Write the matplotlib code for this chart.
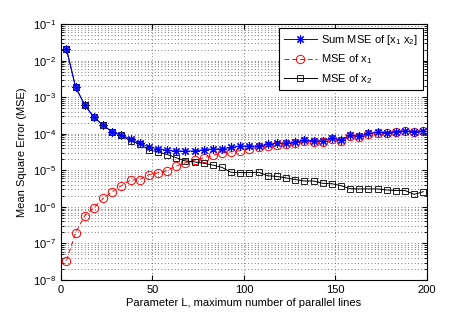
import matplotlib
matplotlib.use("Agg")
import matplotlib.pyplot as plt
import numpy as np
from matplotlib.ticker import LogLocator, NullFormatter

plt.rcParams['font.family'] = ['Liberation Sans', 'DejaVu Sans']
plt.rcParams['mathtext.default'] = 'regular'
plt.rcParams['font.size'] = 8

# parameter L values
L = list(range(3, 199, 5))

mse_sum = [2.07e-2, 1.86e-3, 6.1e-4, 2.8e-4, 1.73e-4, 1.12e-4, 9.2e-5, 7.2e-5,
           5.7e-5, 4.3e-5, 3.9e-5, 3.5e-5, 3.36e-5, 3.36e-5, 3.36e-5, 3.66e-5,
           3.82e-5, 3.82e-5, 4.25e-5, 4.61e-5, 4.61e-5, 4.61e-5, 5.13e-5, 5.47e-5,
           5.47e-5, 5.9e-5, 6.7e-5, 6.45e-5, 6.3e-5, 7.8e-5, 6.7e-5, 9.0e-5,
           8.7e-5, 1.02e-4, 1.09e-4, 1.07e-4, 1.14e-4, 1.21e-4, 1.14e-4, 1.21e-4]

mse_x1 = [3.4e-8, 1.95e-7, 5.8e-7, 9.5e-7, 1.7e-6, 2.6e-6, 3.8e-6, 5.4e-6,
          5.6e-6, 7.6e-6, 8.5e-6, 9.8e-6, 1.3e-5, 1.62e-5, 1.9e-5, 2.2e-5,
          2.56e-5, 3.0e-5, 3.2e-5, 3.45e-5, 3.9e-5, 4.3e-5, 4.6e-5, 4.8e-5,
          5.1e-5, 5.6e-5, 6.2e-5, 5.95e-5, 5.8e-5, 7.4e-5, 6.3e-5, 8.7e-5,
          8.4e-5, 9.9e-5, 1.06e-4, 1.04e-4, 1.11e-4, 1.18e-4, 1.12e-4, 1.18e-4]

mse_x2 = [2.07e-2, 1.86e-3, 6.1e-4, 2.8e-4, 1.73e-4, 1.1e-4, 9.0e-5, 6.4e-5,
          5.3e-5, 3.6e-5, 3.2e-5, 2.7e-5, 2.2e-5, 1.8e-5, 1.7e-5, 1.56e-5,
          1.39e-5, 1.2e-5, 8.8e-6, 8.7e-6, 8.7e-6, 8.8e-6, 7.1e-6, 6.8e-6,
          6.2e-6, 5.6e-6, 5.1e-6, 5.1e-6, 4.4e-6, 4.3e-6, 3.8e-6, 3.15e-6,
          3.1e-6, 3.1e-6, 3.1e-6, 2.9e-6, 2.8e-6, 2.8e-6, 2.2e-6, 2.6e-6]

fig = plt.figure(figsize=(4.71, 3.16), dpi=100)
ax = fig.add_axes([0.1295, 0.1139, 0.777, 0.810])

# MATLAB-like asterisk marker
ax.semilogy(L, mse_sum, '-', marker=(8, 2, 0), color='blue', lw=0.7, ms=6,
            mew=0.8, label='Sum MSE of [x$_1$ x$_2$]', zorder=3)
ax.semilogy(L, mse_x1, '--o', color='red', lw=0.7, ms=6, mew=0.7,
            mfc='none', dashes=(5, 3), label='MSE of x$_1$', zorder=2)
ax.semilogy(L, mse_x2, '-s', color='black', lw=0.7, ms=5, mew=0.6,
            mfc='none', label='MSE of x$_2$', zorder=2)

ax.set_xlim(0, 200)
ax.set_ylim(1e-8, 1e-1)
ax.set_xticks([0, 50, 100, 150, 200])
ax.yaxis.set_major_locator(LogLocator(base=10, numticks=10))
ax.yaxis.set_minor_locator(LogLocator(base=10, subs=np.arange(2, 10), numticks=10))
ax.yaxis.set_minor_formatter(NullFormatter())

dots = (0, (1, 3))
ax.grid(True, which='major', linestyle=dots, color='#505050', lw=0.6)
ax.grid(True, which='minor', axis='y', linestyle=dots, color='#505050', lw=0.6)
ax.tick_params(which='both', direction='in', top=True, right=True, labelsize=8)
ax.tick_params(which='major', length=3.5)
ax.tick_params(which='minor', length=2)
for s in ax.spines.values():
    s.set_linewidth(0.8)

ax.set_xlabel('Parameter L, maximum number of parallel lines', labelpad=2)
ax.set_ylabel('Mean Square Error (MSE)', labelpad=4)

leg = ax.legend(loc='upper right', fancybox=False, framealpha=1,
                edgecolor='black', fontsize=8, borderaxespad=0.4,
                handlelength=3.0, handletextpad=0.4, labelspacing=0.5)
leg.get_frame().set_linewidth(0.8)

fig.savefig('out.png', dpi=100)
